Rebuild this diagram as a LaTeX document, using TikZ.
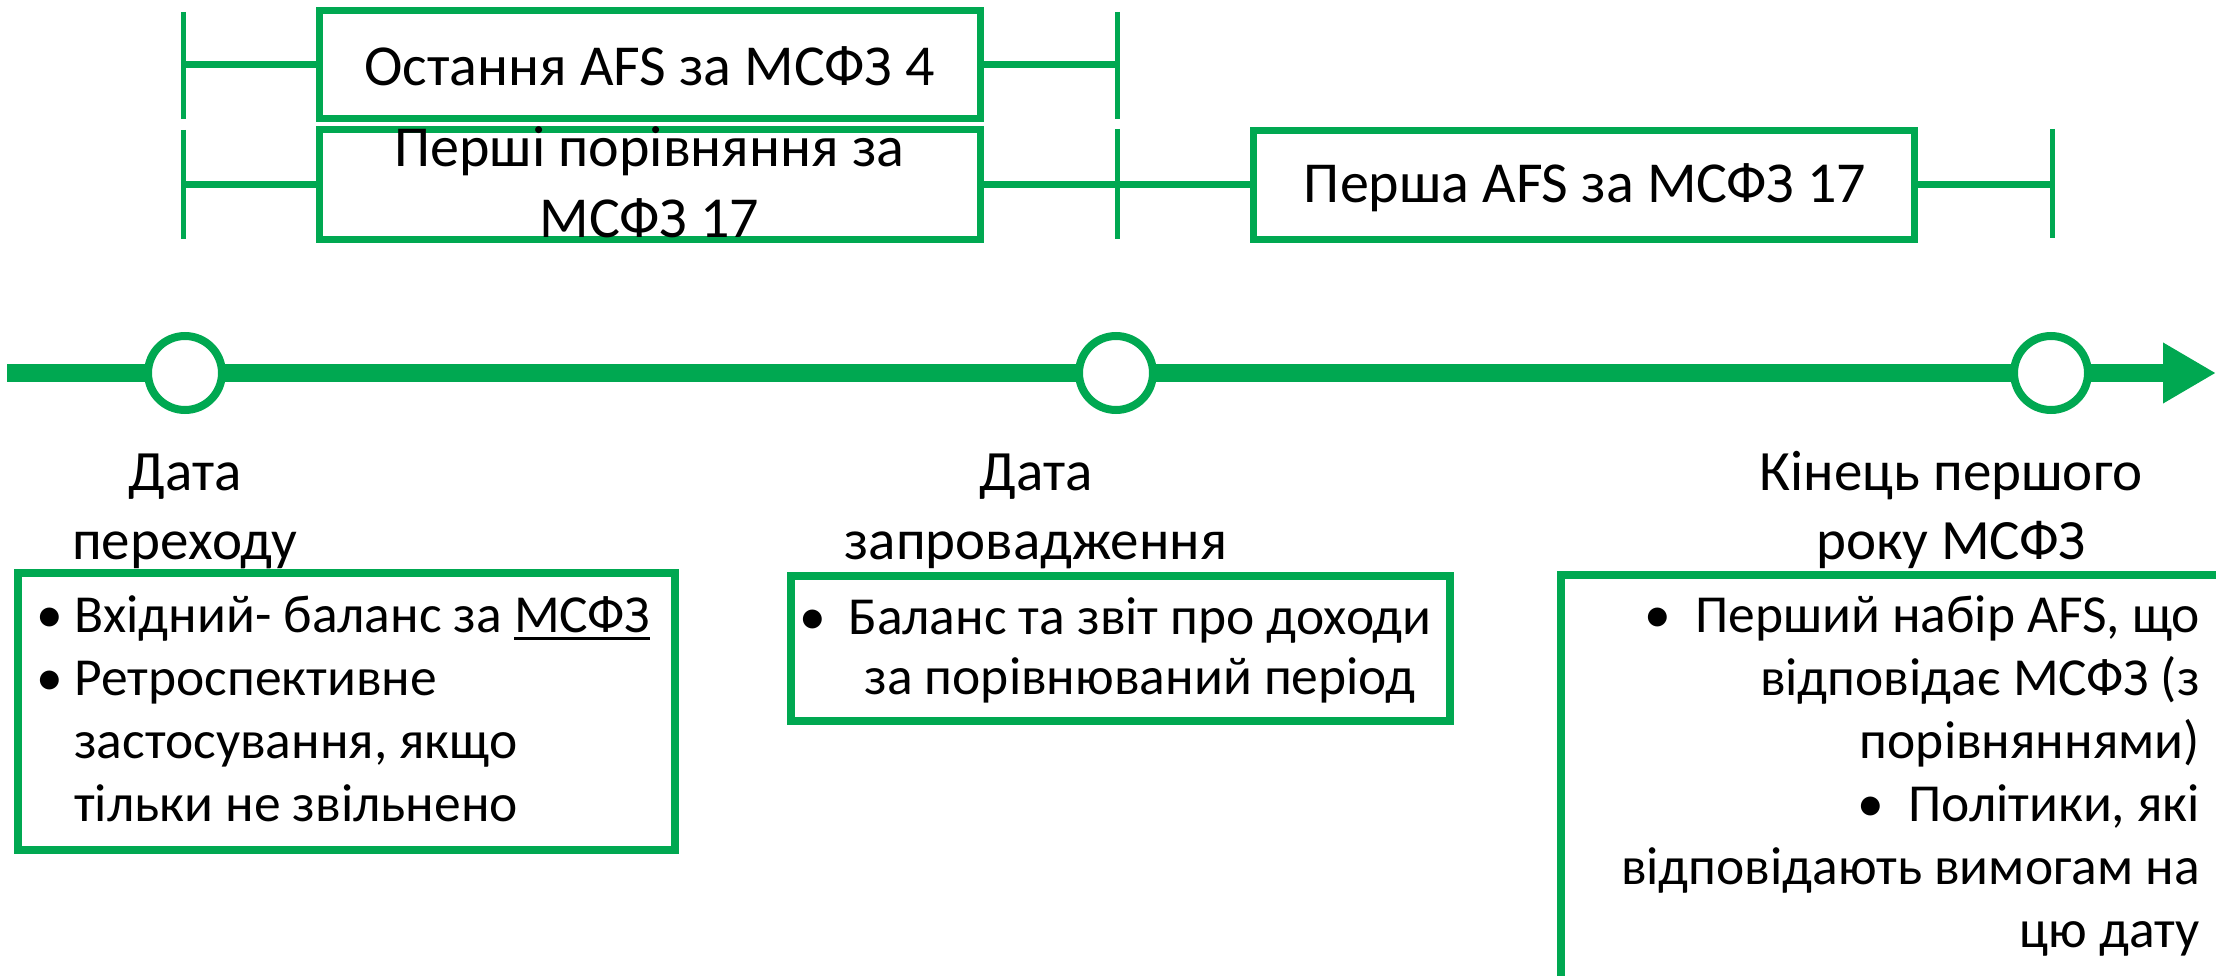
\documentclass[tikz,border=0pt]{standalone}
\usepackage{fontspec}
\setmainfont{Carlito}
\usetikzlibrary{arrows.meta}
\definecolor{tlgreen}{RGB}{0,168,81}
% underline with a heavier rule
\newcommand\heavyul[1]{\setbox0\hbox{#1}\rlap{\rule[-8pt]{\wd0}{3.5pt}}\box0}
\begin{document}
\begin{tikzpicture}[x=1pt,y=-1pt,
  tickline/.style={draw=tlgreen, line width=5pt},
  linkline/.style={draw=tlgreen, line width=7pt},
  periodbox/.style={draw=tlgreen, line width=7pt, rectangle, inner sep=0pt,
    outer sep=0pt, minimum width=661pt, font=\fontsize{58}{70}\selectfont},
  milestone/.style={circle, draw=tlgreen, fill=white, line width=8pt,
    minimum size=74pt, inner sep=0pt},
  notebox/.style={draw=tlgreen, line width=8pt, rectangle, inner sep=0pt, outer sep=0pt},
  datelabel/.style={align=center, anchor=base, inner sep=0pt,
    font=\fontsize{57}{69}\selectfont},
  notetext/.style={inner sep=0pt, font=\fontsize{53.5}{63}\selectfont}]
\useasboundingbox (0,0) rectangle (2216,976);

% ---- reporting periods (top rows) ----
\coordinate (r1l-top) at (183,12);  \coordinate (r1l-bot) at (183,119);
\coordinate (r1r-top) at (1117,12); \coordinate (r1r-bot) at (1117,119);
\coordinate (r2l-top) at (183,130); \coordinate (r2l-bot) at (183,239);
\coordinate (r2m-top) at (1117,129); \coordinate (r2m-bot) at (1117,239);
\coordinate (r2r-top) at (2052,129); \coordinate (r2r-bot) at (2052,238);
\coordinate (r1l) at (183,65);  \coordinate (r1r) at (1117,65);
\coordinate (r2l) at (183,185); \coordinate (r2m) at (1117,185);
\coordinate (r2r) at (2052,185);

\draw[tickline] (r1l-top) -- (r1l-bot);
\draw[tickline] (r1r-top) -- (r1r-bot);
\draw[tickline] (r2l-top) -- (r2l-bot);
\draw[tickline] (r2m-top) -- (r2m-bot);
\draw[tickline] (r2r-top) -- (r2r-bot);

\node[periodbox, minimum height=108pt] (afs4) at (649.5,65) {};
\node[periodbox, minimum height=110pt] (cmp) at (649.5,185) {};
\node[periodbox, minimum height=109pt] (afs17) at (1583.5,185) {};

\draw[linkline] (r1l) -- (afs4.west);
\draw[linkline] (afs4.east) -- (r1r);
\draw[linkline] (r2l) -- (cmp.west);
\draw[linkline] (cmp.east) -- (r2m) -- (afs17.west);
\draw[linkline] (afs17.east) -- (r2r);

\node[datelabel, font=\fontsize{58}{71}\selectfont] (afs4text) at (649.5,86)
  {Остання AFS за МСФЗ 4};
\node[datelabel, font=\fontsize{58}{71}\selectfont] (cmptext) at (649.5,238)
  {Перші порівняння за\\МСФЗ 17};
\node[datelabel, font=\fontsize{58}{71}\selectfont] (afs17text) at (1585,203)
  {Перша AFS за МСФЗ 17};

% ---- time axis ----
\coordinate (tlstart) at (7,373);
\coordinate (tlend) at (2216,373);
\draw[tlgreen, line width=18pt, -{Triangle[length=53pt,width=57pt]}] (tlstart) -- (tlend);
\node[milestone] (m1) at (185,373) {};
\node[milestone] (m2) at (1116,373) {};
\node[milestone] (m3) at (2051,373) {};

% ---- milestone captions (anchored at the last line's baseline) ----
\node[datelabel] (lbl1) at (185,559) {Дата\\переходу};
\node[datelabel] (lbl2) at (1036,559) {Дата\\запровадження};
\node[datelabel] (lbl3) at (1951,559) {Кінець першого\\року МСФЗ};

% ---- notes ----
\node[notebox, minimum width=657pt, minimum height=277pt] (boxa) at (346.5,711.5) {};
\node[notetext, anchor=base west, align=left] (texta) at (36,821)
  {\makebox[38pt][l]{•}Вхідний- баланс за \heavyul{МСФЗ}\\
   \makebox[38pt][l]{•}Ретроспективне\\
   \hspace*{38pt}застосування, якщо\\
   \hspace*{38pt}тільки не звільнено};

\node[notebox, minimum width=659pt, minimum height=145pt] (boxb) at (1120.5,648.5) {};
\node[notetext, anchor=base, align=center, font=\fontsize{53.5}{60}\selectfont] (textb) at (1140,694)
  {\llap{•\hspace{22pt}}Баланс та звіт про доходи\\за порівнюваний період};

\begin{scope}
  \clip (0,0) rectangle (2216,976);
  \node[notebox, anchor=north west, minimum width=800pt, minimum height=500pt] (boxc) at (1561,575) {};
\end{scope}
\node[notetext, anchor=base east, align=right] (textc) at (2200,947)
  {•\hspace{24pt}Перший набір AFS, що\\
   відповідає МСФЗ (з\\
   порівняннями)\\
   •\hspace{24pt}Політики, які\\
   відповідають вимогам на\\
   цю дату};
\end{tikzpicture}
\end{document}
